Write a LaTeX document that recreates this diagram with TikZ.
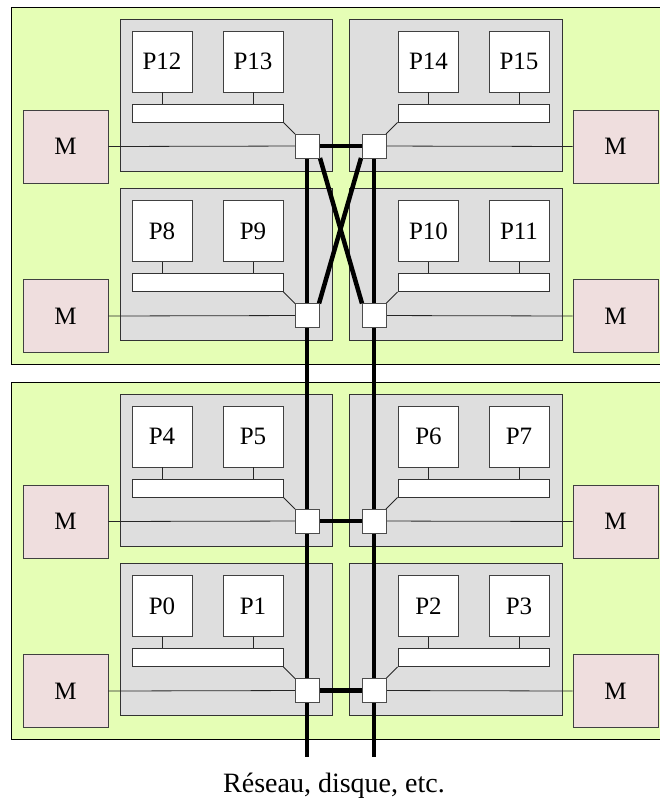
\documentclass[tikz,border=0pt]{standalone}
\usepackage{fontspec}
\setmainfont{Liberation Serif}
\definecolor{grn}{HTML}{E5FEB5}
\definecolor{gry}{HTML}{DEDEDE}
\definecolor{pnk}{HTML}{EFDEDE}
\tikzset{
  grnbox/.style={draw=black, fill=grn, line width=0.8pt},
  grybox/.style={draw=black!80, fill=gry, line width=0.8pt},
  pbox/.style={draw=black!75, fill=white, line width=0.8pt, minimum width=60pt, minimum height=61pt, inner sep=0pt, font=\fontsize{25}{28}\selectfont},
  barbox/.style={draw=black!80, fill=white, line width=0.8pt, minimum width=151pt, minimum height=18pt, inner sep=0pt},
  swbox/.style={draw=black!70, fill=white, line width=0.8pt, minimum width=24pt, minimum height=24pt, inner sep=0pt},
  mbox/.style={draw=black!75, fill=pnk, line width=0.8pt, minimum width=85pt, minimum height=73pt, inner sep=0pt, font=\fontsize{25}{28}\selectfont},
  thin/.style={draw=black!85, line width=0.8pt},
  bus/.style={draw=black, line width=4.5pt},
}
\newcommand\clusterL[4]{%
  \begin{scope}[shift={(0,#1)}]
    \fill[grybox] (120,0) rectangle (332,152);
    \node[pbox] (pa#4) at (162,42.5) {#2};
    \node[pbox] (pb#4) at (253,42.5) {#3};
    \node[barbox] (bar#4) at (207.5,94) {};
    \node[mbox] (m#4) at (65.5,127.5) {M};
    \coordinate (swc#4) at (307,127);
    \draw[thin] (pa#4.south) -- (pa#4.south |- bar#4.north);
    \draw[thin] (pb#4.south) -- (pb#4.south |- bar#4.north);
    \draw[thin] (bar#4.south east) -- ([xshift=-12pt,yshift=12pt]swc#4);
    \draw[thin] (m#4.east) -- (swc#4);
  \end{scope}}
\newcommand\clusterR[4]{%
  \begin{scope}[shift={(0,#1)}]
    \fill[grybox] (349,0) rectangle (562,152);
    \node[pbox] (pa#4) at (428.5,42.5) {#2};
    \node[pbox] (pb#4) at (519,42.5) {#3};
    \node[barbox] (bar#4) at (473.5,94) {};
    \node[mbox] (m#4) at (615.5,127.5) {M};
    \coordinate (swc#4) at (374,127);
    \draw[thin] (pa#4.south) -- (pa#4.south |- bar#4.north);
    \draw[thin] (pb#4.south) -- (pb#4.south |- bar#4.north);
    \draw[thin] (bar#4.south west) -- ([xshift=12pt,yshift=12pt]swc#4);
    \draw[thin] (swc#4) -- (m#4.west);
  \end{scope}}
\begin{document}
\begin{tikzpicture}[x=1pt,y=-1pt]
\useasboundingbox (0,0) rectangle (660,798);
\fill[grnbox] (11,7) rectangle (672,364);
\fill[grnbox] (11,382) rectangle (672,739);
\clusterL{19}{P12}{P13}{L1}
\clusterR{19}{P14}{P15}{R1}
\clusterL{188.5}{P8}{P9}{L2}
\clusterR{188.5}{P10}{P11}{R2}
\clusterL{394}{P4}{P5}{L3}
\clusterR{394}{P6}{P7}{R3}
\clusterL{563.5}{P0}{P1}{L4}
\clusterR{563.5}{P2}{P3}{R4}
\coordinate (endL) at (307,757);
\coordinate (endR) at (374,757);
% buses
\draw[bus] (swcL1) -- (endL);
\draw[bus] (swcR1) -- (endR);
\draw[bus] (swcL1) -- (swcR1);
\draw[bus] (swcL3) -- (swcR3);
\draw[bus] (swcL4) -- (swcR4);
\draw[bus] ([xshift=13pt,yshift=-12pt]swcL1) -- ([xshift=-12pt,yshift=12pt]swcR2);
\draw[bus] ([xshift=-13pt,yshift=-12pt]swcR1) -- ([xshift=12pt,yshift=12pt]swcL2);
% switches
\foreach \s in {L1,R1,L2,R2,L3,R3,L4,R4}{
  \node[swbox] (sw\s) at (swc\s) {};
}
\node[anchor=base, font=\fontsize{28}{32}\selectfont] (lbl) at (334,792) {Réseau, disque, etc.};
\end{tikzpicture}
\end{document}
